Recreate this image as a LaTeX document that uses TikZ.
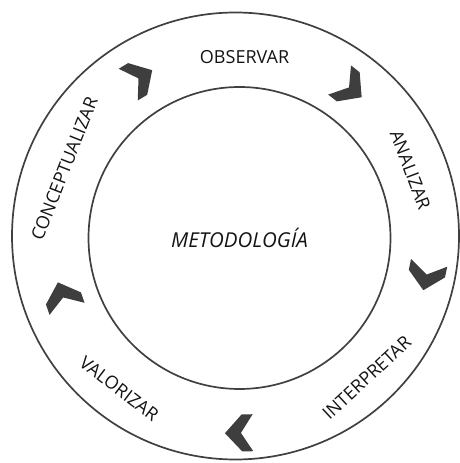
\documentclass[tikz,border=0pt]{standalone}
\usepackage{fontspec}
\setmainfont{Open Sans}
\usetikzlibrary{calc}
\usepackage{xcolor}
\definecolor{ringln}{RGB}{64,64,64}
\definecolor{chevfill}{RGB}{62,62,62}
\definecolor{ink}{RGB}{20,20,20}

\begin{document}
\begin{tikzpicture}[
  x=1pt,y=1pt,
  ring/.style={draw=ringln,line width=1.7pt,circle,inner sep=0pt,outer sep=0pt},
  stage/.style={text=ink,font=\fontsize{18}{22}\selectfont,inner sep=0pt},
  chev/.pic={\fill[chevfill] (14pt,0pt) -- (-3pt,18.5pt) -- (-14pt,18.5pt) -- (-2pt,0pt)
    -- (-14pt,-18.5pt) -- (-3pt,-18.5pt) -- cycle;},
]
\useasboundingbox (0,0) rectangle (459,463);
% rings
\coordinate (c) at (235.5,227);
\node[ring,minimum size=447pt] (ciclo) at (c) {};
\node[ring,minimum size=302pt,text=ink,font=\fontsize{20.5}{24}\selectfont\itshape] (metodo) at (239.5,225) {METODOLOGÍA};
% stages round the ring
\node[stage] (obs) at ([shift={(87.1:179.5pt)}]c) {OBSERVAR};
\node[stage,rotate=-69.3] (ana) at ([shift={(20.7:187pt)}]c) {ANALIZAR};
\node[stage,rotate=42.8] (inter) at ([shift={(-47.2:193pt)}]c) {INTERPRETAR};
\node[stage,rotate=-37.3] (valo) at ([shift={(-127.3:192pt)}]c) {VALORIZAR};
\node[stage,rotate=68.5] (concep) at ([shift={(158.5:184pt)}]c) {CONCEPTUALIZAR};
% chevrons, clockwise
\pic[rotate=31] at ([shift={(121:185pt)}]c) {chev};
\pic[rotate=-38] at ([shift={(52:187pt)}]c) {chev};
\pic[rotate=-102] at ([shift={(-12:195pt)}]c) {chev};
\pic[rotate=-179] at ([shift={(-89:197pt)}]c) {chev};
\pic[rotate=109] at ([shift={(-161:183pt)}]c) {chev};
\end{tikzpicture}
\end{document}
